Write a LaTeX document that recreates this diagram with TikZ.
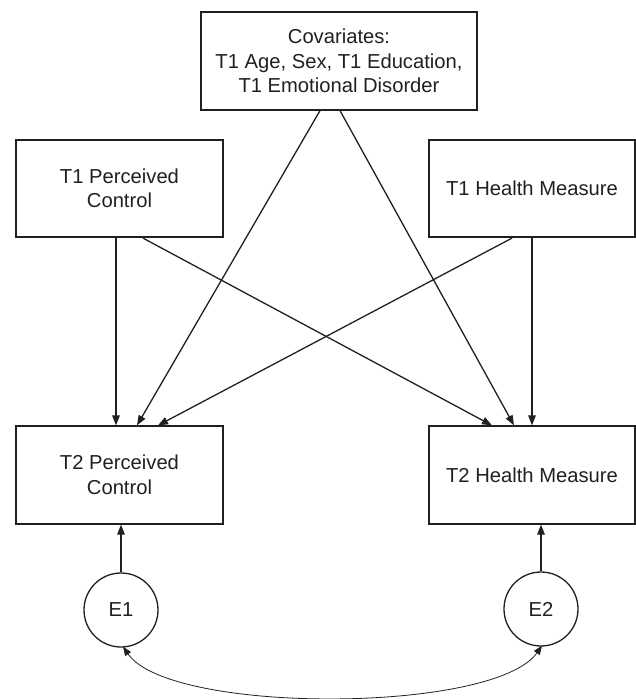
\documentclass[tikz,border=0pt]{standalone}
\usepackage{fontspec}
\setmainfont{Liberation Sans}
\usetikzlibrary{arrows.meta}
\definecolor{ink}{RGB}{35,31,32}
\tikzset{
  boxnode/.style={draw=ink, line width=1.7pt, text=ink, minimum height=97.5pt, align=center, inner sep=0pt,
    font=\fontsize{20.2pt}{24.5pt}\selectfont},
  errnode/.style={draw=ink, line width=1.3pt, circle, minimum size=74pt, inner sep=0pt, text=ink,
    font=\fontsize{20.2pt}{24.5pt}\selectfont},
  arr/.style={draw=ink, line width=1.3pt, -{Triangle[length=10pt,width=7.5pt]}},
  cov/.style={draw=ink, line width=0.8pt, {Triangle[length=9pt,width=7pt]}-{Triangle[length=9pt,width=7pt]}}
}
\begin{document}
\begin{tikzpicture}[x=1pt,y=-1pt]
\useasboundingbox (0,0) rectangle (636,699);
\node[boxnode, minimum width=276pt] (cov) at (339,61) {Covariates:\\T1 Age, Sex, T1 Education,\\T1 Emotional Disorder};
\node[boxnode, minimum width=207pt] (t1pc) at (119.5,188.5) {T1 Perceived\\Control};
\node[boxnode, minimum width=206pt] (t1hm) at (532,188.5) {T1 Health Measure};
\node[boxnode, minimum width=207pt] (t2pc) at (119.5,475) {T2 Perceived\\Control};
\node[boxnode, minimum width=206pt] (t2hm) at (532,475) {T2 Health Measure};
\node[errnode] (e1) at (121,610) {E1};
\node[errnode] (e2) at (541,609) {E2};
% paths
\draw[arr] ([xshift=-3.5pt]t1pc.south) -- ([xshift=-3.5pt]t2pc.north);
\draw[arr] ([xshift=23.5pt]t1pc.south) -- ([xshift=-40pt]t2hm.north);
\draw[arr] ([xshift=-19pt]cov.south) -- ([xshift=17.5pt]t2pc.north);
\draw[arr] ([xshift=1pt]cov.south) -- ([xshift=-18pt]t2hm.north);
\draw[arr] ([xshift=-20pt]t1hm.south) -- ([xshift=38.5pt]t2pc.north);
\draw[arr] (t1hm.south) -- (t2hm.north);
\draw[arr] (e1.north) -- (e1.north |- t2pc.south);
\draw[arr] (e2.north) -- (e2.north |- t2hm.south);
\draw[cov] ([xshift=2pt,yshift=1pt]e1.south) .. controls +(47,68) and +(-48,68) .. ([xshift=1pt,yshift=1pt]e2.south);
\end{tikzpicture}
\end{document}
